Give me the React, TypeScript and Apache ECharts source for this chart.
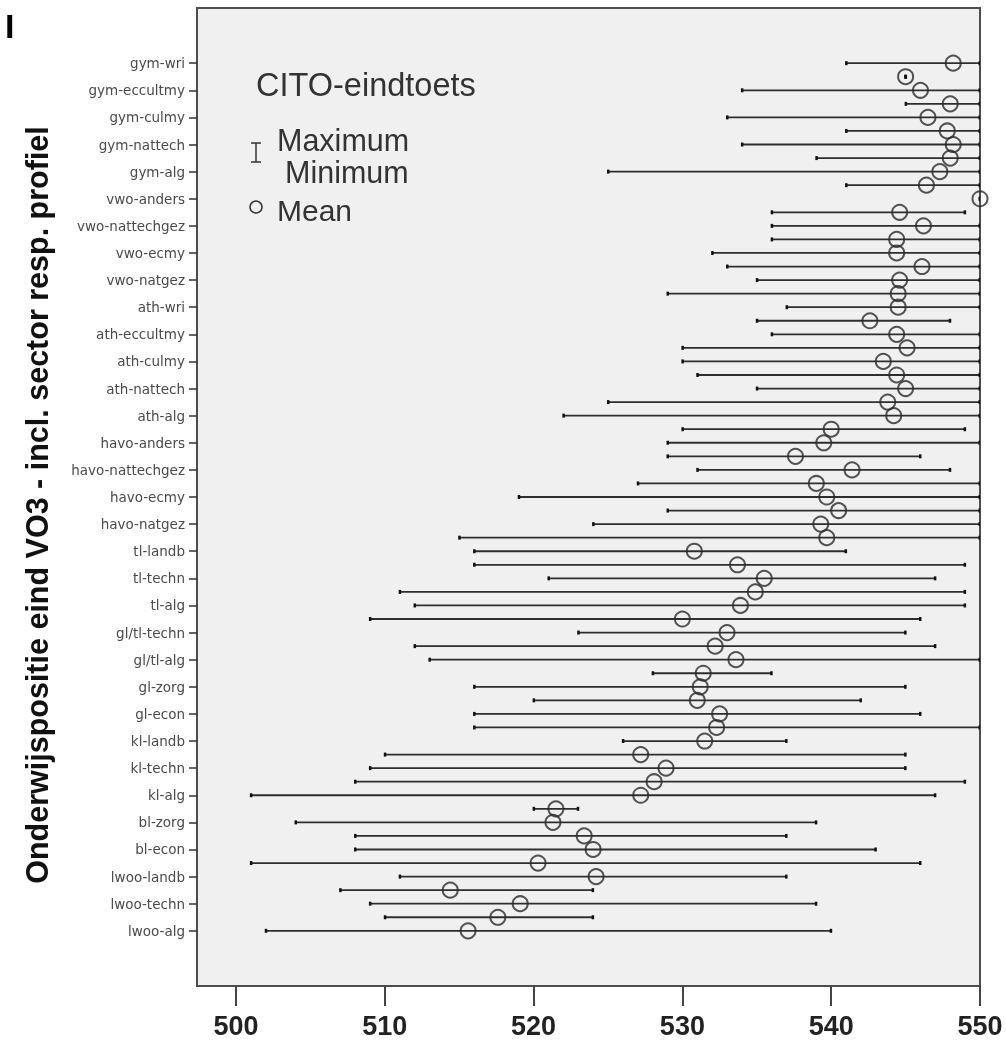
import React, { useEffect, useRef } from "react";
import * as echarts from "echarts";

const rowLabels: string[] = [
  "gym-wri", "", "gym-eccultmy", "", "gym-culmy", "", "gym-nattech", "", "gym-alg", "",
  "vwo-anders", "", "vwo-nattechgez", "", "vwo-ecmy", "", "vwo-natgez", "", "ath-wri", "",
  "ath-eccultmy", "", "ath-culmy", "", "ath-nattech", "", "ath-alg", "", "havo-anders", "",
  "havo-nattechgez", "", "havo-ecmy", "", "havo-natgez", "", "tl-landb", "", "tl-techn", "",
  "tl-alg", "", "gl/tl-techn", "", "gl/tl-alg", "", "gl-zorg", "", "gl-econ", "",
  "kl-landb", "", "kl-techn", "", "kl-alg", "", "bl-zorg", "", "bl-econ", "",
  "lwoo-landb", "", "lwoo-techn", "", "lwoo-alg",
];

const minValues: number[] = [
  541, 545, 534, 545, 533, 541, 534, 539, 525, 541,
  550, 536, 536, 536, 532, 533, 535, 529, 537, 535,
  536, 530, 530, 531, 535, 525, 522, 530, 529, 529,
  531, 527, 519, 529, 524, 515, 516, 516, 521, 511,
  512, 509, 523, 512, 513, 528, 516, 520, 516, 516,
  526, 510, 509, 508, 501, 520, 504, 508, 508, 501,
  511, 507, 509, 510, 502,
];

const maxValues: number[] = [
  550, 545, 550, 550, 550, 550, 550, 550, 550, 550,
  550, 549, 550, 550, 550, 550, 550, 550, 550, 548,
  550, 550, 550, 550, 550, 550, 550, 549, 550, 546,
  548, 550, 550, 550, 550, 550, 541, 549, 547, 549,
  549, 546, 545, 547, 550, 536, 545, 542, 546, 550,
  537, 545, 545, 549, 547, 523, 539, 537, 543, 546,
  537, 524, 539, 524, 540,
];

const meanValues: number[] = [
  548.2, 545.0, 546.0, 548.0, 546.5, 547.8, 548.2, 548.0, 547.3, 546.4,
  550.0, 544.6, 546.2, 544.4, 544.4, 546.1, 544.6, 544.5, 544.5, 542.6,
  544.4, 545.1, 543.5, 544.4, 545.0, 543.8, 544.2, 540.0, 539.5, 537.6,
  541.4, 539.0, 539.7, 540.5, 539.3, 539.7, 530.8, 533.7, 535.5, 534.9,
  533.9, 530.0, 533.0, 532.2, 533.6, 531.4, 531.2, 531.0, 532.5, 532.3,
  531.5, 527.2, 528.9, 528.1, 527.2, 521.5, 521.3, 523.4, 524.0, 520.3,
  524.2, 514.4, 519.1, 517.6, 515.6,
];

const xTickValues: number[] = [500, 510, 520, 530, 540, 550];

const legendTitle = "CITO-eindtoets";
const yTitle = "Onderwijspositie eind VO3 - incl. sector resp. profiel";

export default function App() {
  const ref = useRef<HTMLDivElement>(null);

  useEffect(() => {
    if (!ref.current) return;
    const chart = echarts.init(ref.current, null, { renderer: "svg" });

    const labelRows: number[] = [];
    rowLabels.forEach((l, i) => {
      if (l !== "") labelRows.push(i);
    });

    const rangeData = rowLabels.map((_, i) => [minValues[i], maxValues[i], i]);
    const meanData = rowLabels.map((_, i) => [meanValues[i], i]);

    const font = "'Liberation Sans', Arial, sans-serif";

    const option: any = {
      animation: false,
      grid: {
        left: 197,
        right: 26,
        top: 8,
        bottom: 55,
        show: true,
        backgroundColor: "#f0f0f0",
        borderColor: "#4d4d4d",
        borderWidth: 2,
      },
      xAxis: {
        type: "value",
        min: 497.38,
        max: 550,
        axisLine: { show: false, onZero: false },
        splitLine: { show: false },
        axisTick: {
          show: true,
          customValues: xTickValues,
          length: 20,
          lineStyle: { color: "#444", width: 2 },
        },
        axisLabel: {
          customValues: xTickValues,
          fontSize: 27,
          fontWeight: "bold",
          fontFamily: font,
          color: "#222",
          margin: 26,
        },
      },
      yAxis: {
        type: "value",
        inverse: true,
        min: -4.07,
        max: 68.07,
        axisLine: { show: false, onZero: false },
        splitLine: { show: false },
        axisTick: {
          show: true,
          customValues: labelRows,
          length: 8,
          lineStyle: { color: "#333", width: 1.5 },
        },
        axisLabel: {
          customValues: labelRows,
          formatter: (v: number) => rowLabels[Math.round(v)] || "",
          fontSize: 13.5,
          fontFamily: "'DejaVu Sans', sans-serif",
          color: "#4a4a4a",
          margin: 12,
        },
      },
      series: [
        {
          type: "custom",
          clip: true,
          encode: { x: [0, 1], y: 2 },
          data: rangeData,
          renderItem: (params: any, api: any) => {
            const row = api.value(2);
            const p1 = api.coord([api.value(0), row]);
            const p2 = api.coord([api.value(1), row]);
            return {
              type: "group",
              children: [
                {
                  type: "line",
                  shape: { x1: p1[0], y1: p1[1], x2: p2[0], y2: p2[1] },
                  style: { stroke: "#2e2e2e", lineWidth: 1.8 },
                },
                {
                  type: "rect",
                  shape: { x: p1[0] - 1, y: p1[1] - 2, width: 2.5, height: 4 },
                  style: { fill: "#111" },
                },
                {
                  type: "rect",
                  shape: { x: p2[0] - 1.5, y: p2[1] - 2, width: 2.5, height: 4 },
                  style: { fill: "#111" },
                },
              ],
            };
          },
        },
        {
          type: "scatter",
          clip: true,
          data: meanData,
          symbol: "circle",
          symbolSize: 15,
          itemStyle: {
            color: "rgba(0,0,0,0)",
            borderColor: "#2a2a2a",
            borderWidth: 2,
          },
        },
      ],
      graphic: [
        {
          type: "text",
          x: 5,
          y: 26,
          style: {
            text: "I",
            font: `bold 34px ${font}`,
            fill: "#000",
            textVerticalAlign: "middle",
            verticalAlign: "middle",
          },
        },
        {
          type: "text",
          x: 37,
          y: 505,
          rotation: Math.PI / 2,
          style: {
            text: yTitle,
            font: `bold 30.5px ${font}`,
            fill: "#111",
            textAlign: "center",
            align: "center",
            textVerticalAlign: "middle",
            verticalAlign: "middle",
          },
        },
        {
          type: "text",
          x: 256,
          y: 85,
          style: {
            text: legendTitle,
            font: `32.5px ${font}`,
            fill: "#333",
            textVerticalAlign: "middle",
            verticalAlign: "middle",
          },
        },
        {
          type: "text",
          x: 277,
          y: 140,
          style: {
            text: "Maximum",
            font: `30.5px ${font}`,
            fill: "#333",
            textVerticalAlign: "middle",
            verticalAlign: "middle",
          },
        },
        {
          type: "text",
          x: 285,
          y: 172,
          style: {
            text: "Minimum",
            font: `30.5px ${font}`,
            fill: "#333",
            textVerticalAlign: "middle",
            verticalAlign: "middle",
          },
        },
        {
          type: "text",
          x: 277,
          y: 210,
          style: {
            text: "Mean",
            font: `30px ${font}`,
            fill: "#333",
            textVerticalAlign: "middle",
            verticalAlign: "middle",
          },
        },
        {
          type: "line",
          shape: { x1: 256, y1: 143, x2: 256, y2: 162 },
          style: { stroke: "#333", lineWidth: 1.5 },
        },
        {
          type: "line",
          shape: { x1: 251, y1: 143, x2: 261, y2: 143 },
          style: { stroke: "#333", lineWidth: 1.5 },
        },
        {
          type: "line",
          shape: { x1: 251, y1: 162, x2: 261, y2: 162 },
          style: { stroke: "#333", lineWidth: 1.5 },
        },
        {
          type: "circle",
          shape: { cx: 256, cy: 207, r: 6 },
          style: { stroke: "#333", lineWidth: 1.5, fill: "none" },
        },
      ],
    };

    chart.setOption(option);
    return () => {
      chart.dispose();
    };
  }, []);

  return (
    <div
      ref={ref}
      style={{ position: "fixed", left: 0, top: 0, width: 1006, height: 1041 }}
    />
  );
}
